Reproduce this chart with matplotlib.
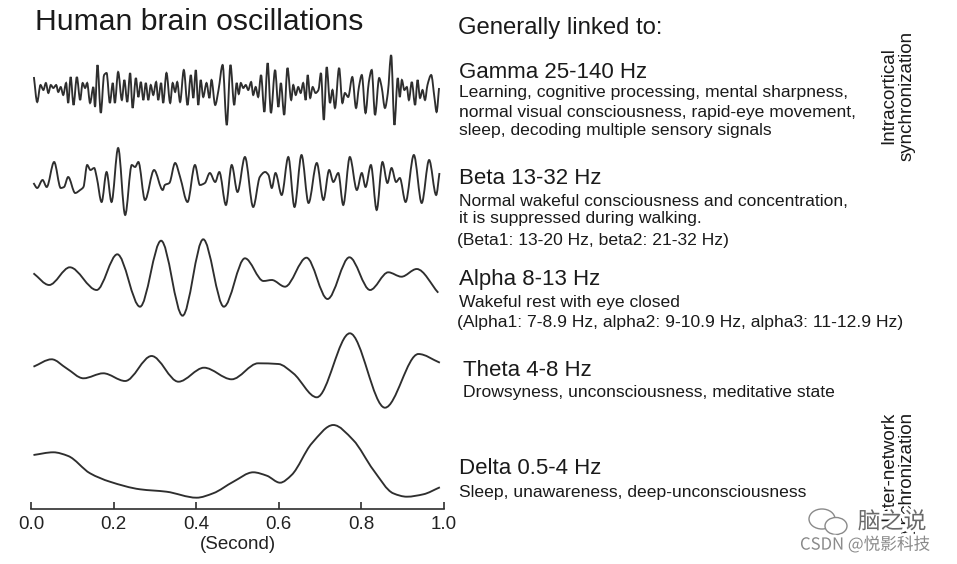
import matplotlib
matplotlib.use("Agg")
import matplotlib.pyplot as plt
import matplotlib.patheffects as pe
from matplotlib.path import Path
from matplotlib.patches import PathPatch, Ellipse

plt.rcParams["font.family"] = ["Liberation Sans", "DejaVu Sans"]

gamma_t = [0.007, 0.015, 0.023, 0.030, 0.036, 0.042, 0.048, 0.054, 0.061, 0.066,
           0.072, 0.078, 0.085, 0.090, 0.096, 0.103, 0.111, 0.119, 0.125, 0.131,
           0.136, 0.143, 0.151, 0.155, 0.161, 0.169, 0.177, 0.183, 0.191, 0.198,
           0.203, 0.211, 0.220, 0.226, 0.233, 0.240, 0.246, 0.254, 0.260, 0.266,
           0.272, 0.278, 0.284, 0.290, 0.296, 0.303, 0.308, 0.315, 0.320, 0.328,
           0.337, 0.343, 0.349, 0.354, 0.361, 0.370, 0.379, 0.387, 0.393, 0.399,
           0.405, 0.411, 0.417, 0.425, 0.432, 0.437, 0.446, 0.454, 0.464, 0.474,
           0.483, 0.492, 0.498, 0.503, 0.508, 0.514, 0.520, 0.526, 0.533, 0.538,
           0.544, 0.550, 0.557, 0.565, 0.573, 0.581, 0.591, 0.599, 0.605, 0.613,
           0.621, 0.630, 0.635, 0.641, 0.647, 0.653, 0.659, 0.665, 0.670, 0.676,
           0.682, 0.689, 0.696, 0.702, 0.709, 0.716, 0.724, 0.730, 0.736, 0.746,
           0.754, 0.760, 0.768, 0.778, 0.787, 0.794, 0.801, 0.810, 0.818, 0.825,
           0.833, 0.843, 0.849, 0.857, 0.864, 0.872, 0.880, 0.888, 0.893, 0.898,
           0.904, 0.910, 0.915, 0.922, 0.930, 0.936, 0.942, 0.948, 0.954, 0.960,
           0.969, 0.977, 0.982, 0.988]
gamma_amp = [13, -12, 5, 0, 7, -3, 5, 2, 5, -2,
             3, -5, 7, -13, 13, -15, 13, -10, 7, 2,
             7, -13, 3, -17, 25, -23, 15, 17, -13, 7,
             -13, 18, -10, 10, -12, 17, -18, 12, -7, 8,
             -10, 7, -10, 5, -5, 8, -10, 7, -13, 17,
             -13, 7, -2, 8, -12, 20, -15, 15, -8, 20,
             -15, 10, -7, 7, -8, 10, -15, 0, 25, -35,
             25, -15, 7, -4, 7, 2, 5, 0, 8, -5,
             3, -7, 15, -22, 27, -23, 20, -17, 7, -25,
             22, -10, 5, -5, 3, -3, 7, -10, 15, -8,
             3, -3, 0, 17, -30, 23, -13, 0, -18, 22,
             -13, -3, -7, 13, -18, 3, 15, -23, 8, 20,
             -25, 12, 3, -18, -3, 35, -35, 12, -7, 10,
             0, 3, -10, 8, -15, 10, -8, 0, -10, 5,
             15, -8, -22, 2]

beta_t = [0.006, 0.015, 0.028, 0.038, 0.056, 0.072, 0.080, 0.090, 0.107, 0.119,
          0.127, 0.136, 0.144, 0.153, 0.159, 0.171, 0.183, 0.195, 0.211, 0.228,
          0.244, 0.252, 0.260, 0.276, 0.298, 0.319, 0.324, 0.335, 0.349, 0.361,
          0.379, 0.397, 0.409, 0.421, 0.433, 0.446, 0.456, 0.472, 0.486, 0.500,
          0.518, 0.538, 0.554, 0.567, 0.575, 0.583, 0.592, 0.607, 0.623, 0.638,
          0.655, 0.672, 0.692, 0.708, 0.722, 0.732, 0.744, 0.756, 0.772, 0.789,
          0.801, 0.810, 0.823, 0.837, 0.851, 0.863, 0.873, 0.884, 0.893, 0.907,
          0.927, 0.946, 0.964, 0.981, 0.989]
beta_amp = [0, -5, 3, -4, 21, -5, -4, 6, -10, -7,
            -4, 18, 13, 15, 6, -19, 11, -19, 35, -32,
            18, 16, 21, -17, 13, -7, -2, 0, 20, 6,
            -19, 18, -2, 0, 10, 1, 11, -22, 18, -9,
            26, -24, 6, 11, 8, -5, 10, -12, 26, -24,
            28, -20, 20, -17, 13, 1, 10, -22, 26, -7,
            10, -4, 18, -27, 21, 0, 15, 1, 5, -19,
            28, -20, 23, -12, 10]

alpha_t = [0.006, 0.044, 0.094, 0.159, 0.209, 0.264, 0.315, 0.367, 0.417, 0.467,
           0.518, 0.563, 0.583, 0.615, 0.667, 0.718, 0.771, 0.821, 0.865, 0.897,
           0.934, 0.986]
alpha_amp = [4.7, -7, 10.7, -12, 23.7, -28.7, 37.3, -37.7, 38.7, -28.7,
             19.7, -3, -2, -8.7, 20.3, -21, 20.7, -12, 5.7, 1.3,
             9, -14.7]

theta_t = [0.006, 0.050, 0.086, 0.127, 0.175, 0.228, 0.292, 0.357, 0.419, 0.486,
           0.550, 0.599, 0.635, 0.692, 0.772, 0.857, 0.938, 0.990]
theta_amp = [3.3, 10.7, 1.7, -8.3, -3.3, -11, 14, -11.7, 2.3, -9.3,
             6.7, 6, -3.3, -27.3, 36.7, -37.7, 16, 7.3]

delta_t = [0.006, 0.054, 0.090, 0.143, 0.191, 0.264, 0.328, 0.401, 0.441, 0.490,
           0.538, 0.571, 0.603, 0.631, 0.680, 0.732, 0.780, 0.829, 0.877, 0.910,
           0.950, 0.990]
delta_amp = [5, 7.7, 4, -13.3, -21.7, -29.3, -31.7, -37.7, -33.3, -21.7,
             -12.3, -15.7, -22.7, -15, 16.7, 35, 20, -10, -33.3, -36.7,
             -34.3, -27.3]

x_ticks = [0.0, 0.2, 0.4, 0.6, 0.8, 1.0]
x_ticklabels = ["0.0", "0.2", "0.4", "0.6", "0.8", "1.0"]

# Text rechts neben den Wellen: (Ueberschrift, Beschreibungszeilen)
baender = [
    ("Gamma 25-140 Hz", ["Learning, cognitive processing, mental sharpness,",
                         "normal visual consciousness, rapid-eye movement,",
                         "sleep, decoding multiple sensory signals"]),
    ("Beta 13-32 Hz", ["Normal wakeful consciousness and concentration,",
                       "it is suppressed during walking.",
                       "(Beta1: 13-20 Hz, beta2: 21-32 Hz)"]),
    ("Alpha 8-13 Hz", ["Wakeful rest with eye closed",
                       "(Alpha1: 7-8.9 Hz, alpha2: 9-10.9 Hz, alpha3: 11-12.9 Hz)"]),
    ("Theta 4-8 Hz", ["Drowsyness, unconsciousness, meditative state"]),
    ("Delta 0.5-4 Hz", ["Sleep, unawareness, deep-unconsciousness"]),
]

LINJE = "#2e2e2e"


def glat_kurve(xs, ys, offset):
    """Monotone kubische Kurve durch die Punkte als Bezier-Pfad."""
    n = len(xs)
    ys = [y + offset for y in ys]
    d = [(ys[i + 1] - ys[i]) / (xs[i + 1] - xs[i]) for i in range(n - 1)]
    m = [0.0] * n
    m[0], m[-1] = d[0], d[-1]
    for i in range(1, n - 1):
        if d[i - 1] * d[i] > 0:
            m[i] = 2.0 / (1.0 / d[i - 1] + 1.0 / d[i])
    verts = [(xs[0], ys[0])]
    codes = [Path.MOVETO]
    for i in range(n - 1):
        h = xs[i + 1] - xs[i]
        verts += [(xs[i] + h / 3, ys[i] + m[i] * h / 3),
                  (xs[i + 1] - h / 3, ys[i + 1] - m[i + 1] * h / 3),
                  (xs[i + 1], ys[i + 1])]
        codes += [Path.CURVE4] * 3
    return Path(verts, codes)


fig = plt.figure(figsize=(9.57, 5.64), dpi=100)
ax = fig.add_axes([31 / 957, 55 / 564, 413 / 957, 459 / 564])

serier = [(gamma_t, gamma_amp, 419), (beta_t, beta_amp, 326),
          (alpha_t, alpha_amp, 231), (theta_t, theta_amp, 139),
          (delta_t, delta_amp, 49)]
for ts, amp, off in serier:
    ax.add_patch(PathPatch(glat_kurve(ts, amp, off), fill=False,
                           edgecolor=LINJE, linewidth=1.35, clip_on=False))

ax.set_xlim(0, 1)
ax.set_ylim(0, 459)
for side in ("top", "right", "left"):
    ax.spines[side].set_visible(False)
ax.spines["bottom"].set_color(LINJE)
ax.spines["bottom"].set_linewidth(1.2)
ax.set_yticks([])
ax.set_xticks(x_ticks)
ax.set_xticklabels(x_ticklabels, fontsize=13.5, color="#222")
ax.tick_params(axis="x", direction="in", length=5, width=1.2, color=LINJE, pad=5)
ax.set_xlabel("(Second)", fontsize=13.5, color="#222", labelpad=2)

# Ueberschriften
fig.text(35 / 957, 1 - 22 / 564, "Human brain oscillations", fontsize=21.7,
         va="center", ha="left", color="#1a1a1a")
fig.text(458 / 957, 1 - 28 / 564, "Generally linked to:", fontsize=17.2,
         va="center", ha="left", color="#1a1a1a")

kopf_y = [72, 178, 280, 370, 469]
kopf_x = [459, 459, 459, 463, 459]
zeilen_y = [[93, 112, 130], [201, 218, 241], [303, 323], [392], [492]]
for (kopf, zeilen), ky, kx, zys in zip(baender, kopf_y, kopf_x, zeilen_y):
    fig.text(kx / 957, 1 - ky / 564, kopf, fontsize=16, va="center",
             ha="left", color="#1a1a1a")
    for z, zy in zip(zeilen, zys):
        zx = kx - 2 if z.startswith("(") else kx
        fig.text(zx / 957, 1 - zy / 564, z, fontsize=12.6, va="center",
                 ha="left", color="#1a1a1a")

fig.text(898 / 957, 1 - 96 / 564, "Intracortical\nsynchronization",
         fontsize=13.5, rotation=90, ha="center", va="center",
         multialignment="center", linespacing=1.15, color="#1a1a1a")
fig.text(898 / 957, 1 - 412 / 564, "Inter-network\nsynchronization",
         fontsize=13.5, rotation=90, ha="center", va="top",
         multialignment="right", linespacing=1.15, color="#1a1a1a")

# Wasserzeichen
halo = [pe.withStroke(linewidth=4, foreground="white")]
for cx, cy, w, h in [(822, 519, 26, 20), (836, 526, 22, 17)]:
    fig.patches.append(Ellipse((cx / 957, 1 - cy / 564), w / 957, h / 564,
                               transform=fig.transFigure, facecolor="white",
                               edgecolor="#8a8a8a", linewidth=1.0))
fig.text(892 / 957, 1 - 522 / 564, "脑之说", fontsize=16.5, ha="center",
         va="center", color="#6a6a6a", path_effects=halo,
         family=["Noto Sans CJK SC", "DejaVu Sans"])
fig.text(865 / 957, 1 - 545 / 564, "CSDN @悦影科技", fontsize=12, ha="center",
         va="center", color="#8a8a8a", path_effects=halo,
         family=["Noto Sans CJK SC", "DejaVu Sans"])

fig.savefig("out.png", dpi=100, facecolor="white")
